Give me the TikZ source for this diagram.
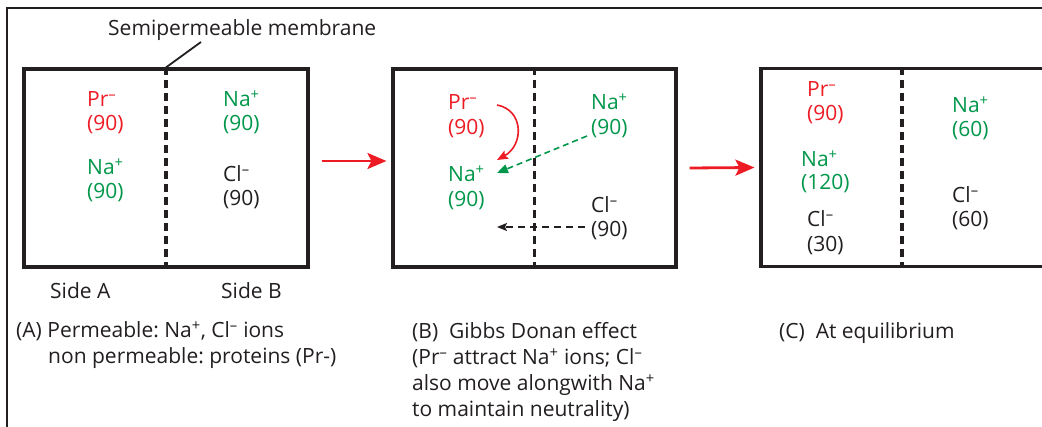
\documentclass[tikz,border=0pt]{standalone}
\usepackage{fontspec}
\setmainfont{Open Sans}
\usetikzlibrary{arrows.meta,calc}
\frenchspacing

\definecolor{ink}{HTML}{231F20}
\definecolor{ired}{HTML}{ED1C24}
\definecolor{igreen}{HTML}{00974A}

% small charge signs
\newcommand{\ionp}{\textsuperscript{+}}
\newcommand{\ionm}{\textsuperscript{--}}

\tikzset{
  x=1pt, y=-1pt,
  txt/.style={anchor=base west, inner sep=0pt, text=ink,
              font=\fontsize{21}{25}\selectfont},
  redtxt/.style={txt, text=ired},
  greentxt/.style={txt, text=igreen},
  chamber/.style={draw=ink, line width=3.1pt, inner sep=0pt,
                  minimum height=198pt},
  membrane/.style={draw=ink, line width=3.2pt, dash pattern=on 8pt off 5pt},
  frameline/.style={draw=ink, line width=1.4pt},
  leader/.style={draw=ink, line width=1.8pt},
  bigarrow/.style={draw=ired, line width=2.8pt,
                   -{Stealth[length=19pt,width=16pt,inset=4pt]}, fill=ired},
  attract/.style={draw=ired, line width=1.6pt,
                  -{Stealth[length=11pt,width=9pt,inset=2pt]}},
  nadrift/.style={draw=igreen, line width=1.6pt, dash pattern=on 6pt off 4pt,
                  -{Triangle[length=11pt,width=9pt]}},
  cldrift/.style={draw=ink, line width=1.6pt, dash pattern=on 7pt off 5pt,
                  -{Stealth[length=10pt,width=8pt,inset=2pt]}},
}

\begin{document}
\begin{tikzpicture}
\useasboundingbox (0,0) rectangle (1042,427);
\clip (0,0) rectangle (1042,427);
\fill[white] (0,0) rectangle (1042,427);

% outer frame (open to the right and bottom)
\draw[frameline] (7,440) -- (7,8) -- (1060,8);

% chambers
\node[chamber, minimum width=284pt] (boxA) at (166,168) {};
\node[chamber, minimum width=283pt] (boxB) at (534.5,168) {};
\node[chamber, minimum width=320pt] (boxC) at (921,167.5) {};

% membranes
\draw[membrane] (boxA.north) -- (boxA.south);
\draw[membrane] (boxB.north) -- (boxB.south);
\draw[membrane] ($(boxC.north)+(-19,0)$) -- ($(boxC.south)+(-19,0)$);

% membrane label
\node[txt] (memlabel) at (108,36) {Semipermeable membrane};
\coordinate (leadtip) at (201,42);
\draw[leader] (boxA.north) -- (leadtip);

% chamber A
\node[redtxt]   (prA)   at (87,107)  {Pr\ionm};
\node[redtxt]   (prAn)  at (87,131)  {(90)};
\node[greentxt] (naA)   at (87,175)  {Na\ionp};
\node[greentxt] (naAn)  at (87,199)  {(90)};
\node[greentxt] (naAr)  at (223,107) {Na\ionp};
\node[greentxt] (naArn) at (223,131) {(90)};
\node[txt]      (clAr)  at (223,182) {Cl\ionm};
\node[txt]      (clArn) at (223,206) {(90)};

\node[txt] (sideA) at (50,299)  {Side A};
\node[txt] (sideB) at (221,299) {Side B};

% chamber B
\node[redtxt]   (prB)   at (448,110) {Pr\ionm};
\node[redtxt]   (prBn)  at (448,135) {(90)};
\node[greentxt] (naB)   at (448,182) {Na\ionp};
\node[greentxt] (naBn)  at (448,207) {(90)};
\node[greentxt] (naBr)  at (591,110) {Na\ionp};
\node[greentxt] (naBrn) at (591,135) {(90)};
\node[txt]      (clBr)  at (591,213) {Cl\ionm};
\node[txt]      (clBrn) at (591,237) {(90)};

% ion movements in chamber B
\coordinate (attS) at (497,105);
\coordinate (attE) at (497,160);
\draw[attract] (attS) .. controls (524,110) and (524,145) .. (attE);
\coordinate (naS) at (587,136);
\coordinate (naE) at (497,173);
\draw[nadrift] (naS) -- (naE);
\coordinate (clS) at (585,227);
\coordinate (clE) at (497,227);
\draw[cldrift] (clS) -- (clE);

% chamber C
\node[redtxt]   (prC)   at (807,97)  {Pr\ionm};
\node[redtxt]   (prCn)  at (807,121) {(90)};
\node[greentxt] (naC)   at (801,167) {Na\ionp};
\node[greentxt] (naCn)  at (801,190) {(120)};
\node[txt]      (clC)   at (807,227) {Cl\ionm};
\node[txt]      (clCn)  at (807,252) {(30)};
\node[greentxt] (naCr)  at (952,113) {Na\ionp};
\node[greentxt] (naCrn) at (952,137) {(60)};
\node[txt]      (clCr)  at (952,203) {Cl\ionm};
\node[txt]      (clCrn) at (952,227) {(60)};

% steps
\draw[bigarrow] ($(boxA.east)+(12,-7)$) -- ($(boxB.west)+(-5,-7)$);
\draw[bigarrow] ($(boxB.east)+(12,0)$) -- ($(boxC.west)+(-5,0)$);

% captions
\node[txt] (capA1) at (16,338) {(A) Permeable: Na\ionp, Cl\ionm{} ions};
\node[txt] (capA2) at (48,364) {non permeable: proteins (Pr-)};

\node[txt] (capB1) at (412,339) {(B)\ \ Gibbs Donan effect};
\node[txt] (capB2) at (412,365) {(Pr\ionm{} attract Na\ionp{} ions; Cl\ionm};
\node[txt] (capB3) at (412,391) {also move alongwith Na\ionp};
\node[txt] (capB4) at (412,417) {to maintain neutrality)};

\node[txt] (capC1) at (779,339) {(C)\ \ At equilibrium};
\end{tikzpicture}
\end{document}
